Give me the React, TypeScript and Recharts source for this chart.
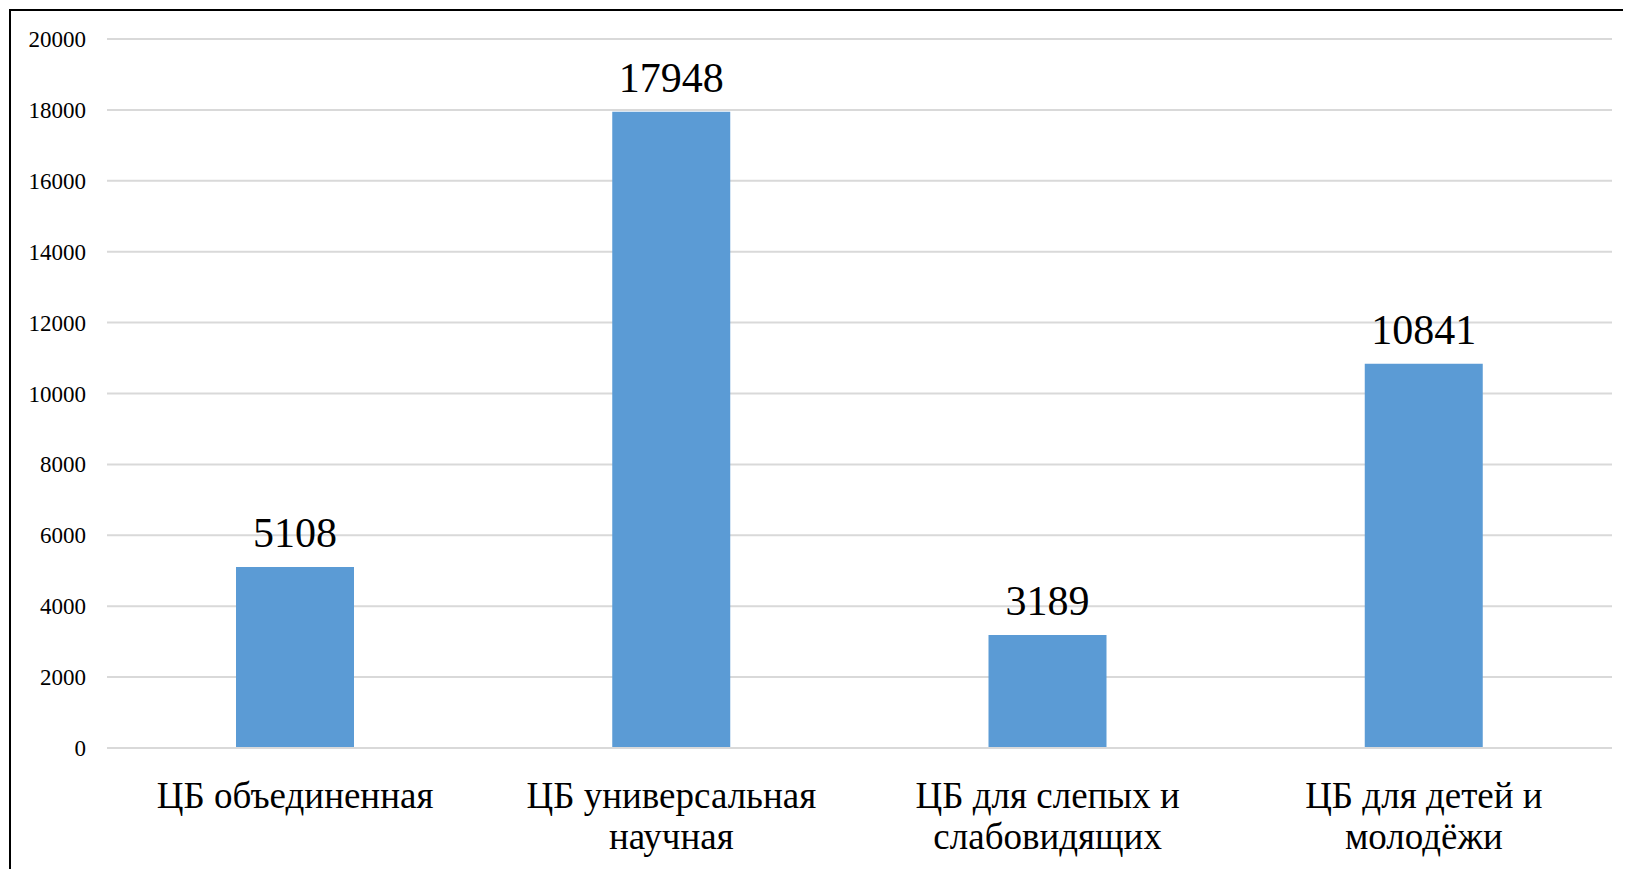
import React from "react";
import { BarChart, Bar, XAxis, YAxis, CartesianGrid, LabelList } from "recharts";

const categories = [
  "ЦБ объединенная",
  "ЦБ универсальная научная",
  "ЦБ для слепых и слабовидящих",
  "ЦБ для детей и молодёжи",
];
const values = [5108, 17948, 3189, 10841];
const yTicks = [0, 2000, 4000, 6000, 8000, 10000, 12000, 14000, 16000, 18000, 20000];

const data = categories.map((name, i) => ({ name, value: values[i] }));

const FONT = "'Liberation Serif', 'Times New Roman', serif";

function wrap(s: string, max: number): string[] {
  const words = s.split(" ");
  const lines: string[] = [];
  let cur = "";
  for (const w of words) {
    const next = cur ? cur + " " + w : w;
    if (next.length > max && cur) {
      lines.push(cur);
      cur = w;
    } else cur = next;
  }
  if (cur) lines.push(cur);
  return lines;
}

const CatTick = (props: any) => {
  const { x, y, payload } = props;
  const lines = wrap(String(payload.value), 16);
  return (
    <text x={x} y={y} textAnchor="middle" fontFamily={FONT} fontSize={37} fill="#000">
      {lines.map((l, i) => (
        <tspan key={i} x={x} dy={i === 0 ? 58 : 41}>
          {l}
        </tspan>
      ))}
    </text>
  );
};

const ValTick = (props: any) => {
  const { x, y, payload } = props;
  return (
    <text x={x} y={y} dy={8} textAnchor="end" fontFamily={FONT} fontSize={23} fill="#000">
      {payload.value}
    </text>
  );
};

const ValueLabel = (props: any) => {
  const { x, y, width, value } = props;
  return (
    <text x={x + width / 2} y={y - 20} textAnchor="middle" fontFamily={FONT} fontSize={42} fill="#000">
      {value}
    </text>
  );
};

export default function App() {
  return (
    <div
      style={{
        position: "relative",
        width: 1631,
        height: 869,
        margin: "-8px 0 0 -8px",
        overflow: "hidden",
        background: "#fff",
      }}
    >
      <div
        style={{
          position: "absolute",
          left: 8.5,
          top: 9,
          width: 1700,
          height: 1000,
          border: "2px solid #000",
          boxSizing: "border-box",
        }}
      />
      <div style={{ position: "absolute", left: 0, top: 0 }}>
        <BarChart
          width={1631}
          height={869}
          data={data}
          margin={{ top: 39, right: 19, left: 0, bottom: 0 }}
          barSize={118}
        >
          <CartesianGrid vertical={false} stroke="#D9D9D9" strokeWidth={2} />
          <XAxis
            dataKey="name"
            axisLine={{ stroke: "#D9D9D9", strokeWidth: 2 }}
            tickLine={false}
            tickSize={0}
            tick={<CatTick />}
            interval={0}
            height={121}
          />
          <YAxis
            width={107}
            domain={[0, 20000]}
            ticks={yTicks}
            axisLine={false}
            tickLine={false}
            tickSize={0}
            tickMargin={21}
            tick={<ValTick />}
            interval={0}
          />
          <Bar dataKey="value" fill="#5B9BD5" isAnimationActive={false}>
            <LabelList dataKey="value" content={<ValueLabel />} />
          </Bar>
        </BarChart>
      </div>
    </div>
  );
}
